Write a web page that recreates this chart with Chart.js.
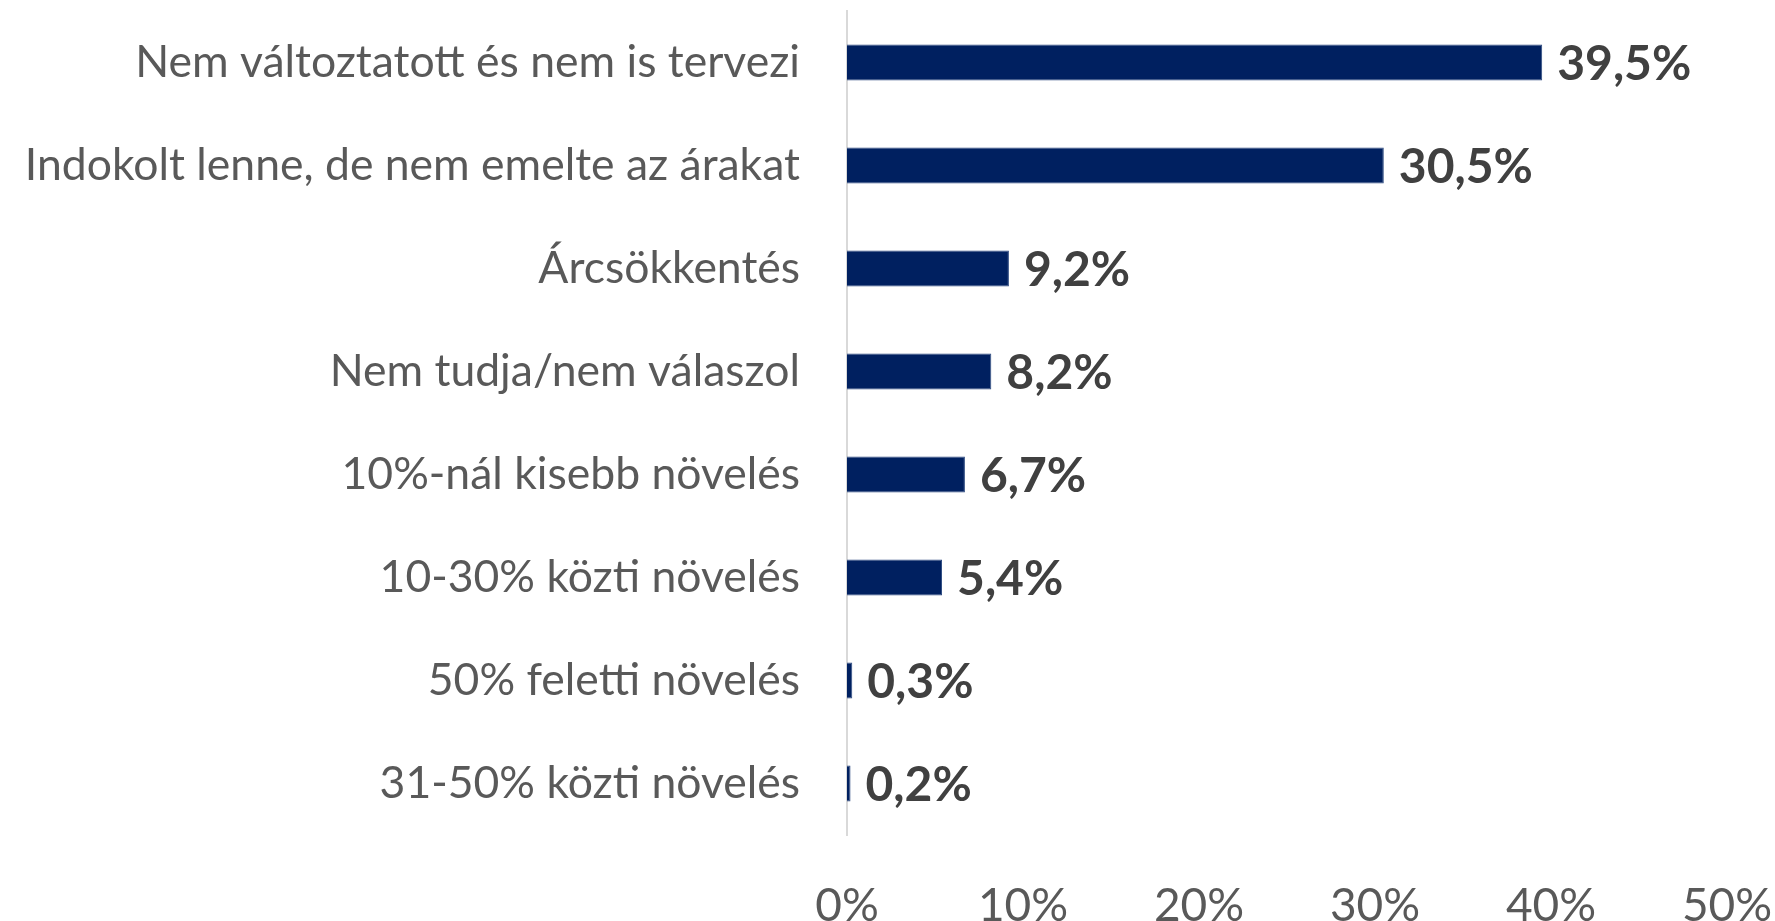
<!DOCTYPE html>
<html>
<head>
<meta charset="utf-8">
<script src="https://cdn.jsdelivr.net/npm/chart.js@4/dist/chart.umd.min.js"></script>
<style>
  html, body { margin: 0; padding: 0; background: #ffffff; }
  #wrap { width: 1775px; height: 921px; position: relative; }
</style>
</head>
<body>
<div id="wrap"><canvas id="c" width="1775" height="921"></canvas></div>
<script>
const categories = [
  "Nem változtatott és nem is tervezi",
  "Indokolt lenne, de nem emelte az árakat",
  "Árcsökkentés",
  "Nem tudja/nem válaszol",
  "10%-nál kisebb növelés",
  "10-30% közti növelés",
  "50% feletti növelés",
  "31-50% közti növelés"
];
const values = [39.5, 30.5, 9.2, 8.2, 6.7, 5.4, 0.3, 0.2];
const valueLabels = ["39,5%", "30,5%", "9,2%", "8,2%", "6,7%", "5,4%", "0,3%", "0,2%"];
const xTicks = [0, 10, 20, 30, 40, 50];

const FONT = "Lato, 'Open Sans', sans-serif";

const dataLabelPlugin = {
  id: 'dataLabels',
  afterDatasetsDraw(chart) {
    const ctx = chart.ctx;
    const meta = chart.getDatasetMeta(0);
    ctx.save();
    ctx.font = "bold 48px " + FONT;
    ctx.fillStyle = "#404040";
    ctx.textAlign = "left";
    ctx.textBaseline = "middle";
    meta.data.forEach((bar, i) => {
      ctx.fillText(valueLabels[i], bar.x + 15, bar.y + 2);
    });
    ctx.restore();
  }
};

new Chart(document.getElementById('c'), {
  type: 'bar',
  data: {
    labels: categories,
    datasets: [{
      data: values,
      backgroundColor: '#002060',
      borderColor: '#2c4a80',
      borderWidth: 1,
      borderSkipped: 'left',
      barPercentage: 0.35,
      categoryPercentage: 1.0
    }]
  },
  options: {
    indexAxis: 'y',
    responsive: false,
    animation: false,
    devicePixelRatio: 1,
    layout: { padding: { top: 11, right: 48, bottom: 0, left: 0 } },
    plugins: { legend: { display: false }, tooltip: { enabled: false } },
    scales: {
      x: {
        min: 0, max: 50,
        afterBuildTicks(scale) { scale.ticks = xTicks.map(v => ({ value: v })); },
        grid: { display: false, drawTicks: false },
        border: { display: false },
        ticks: {
          padding: 44,
          color: '#595959',
          font: { family: FONT, size: 46 },
          callback: (v) => v + '%'
        },
        afterFit(scale) {
          scale.height = 921 - 835;
          scale.paddingLeft = 0;
          scale.paddingRight = 0;
        }
      },
      y: {
        grid: { display: false, drawTicks: false },
        border: { display: true, color: '#d9d9d9', width: 2 },
        ticks: {
          padding: 47,
          color: '#595959',
          font: { family: FONT, size: 44.5 }
        },
        afterFit(scale) {
          scale.width = 847;
          scale.paddingTop = 0;
          scale.paddingBottom = 0;
        }
      }
    }
  },
  plugins: [dataLabelPlugin]
});
</script>
</body>
</html>
